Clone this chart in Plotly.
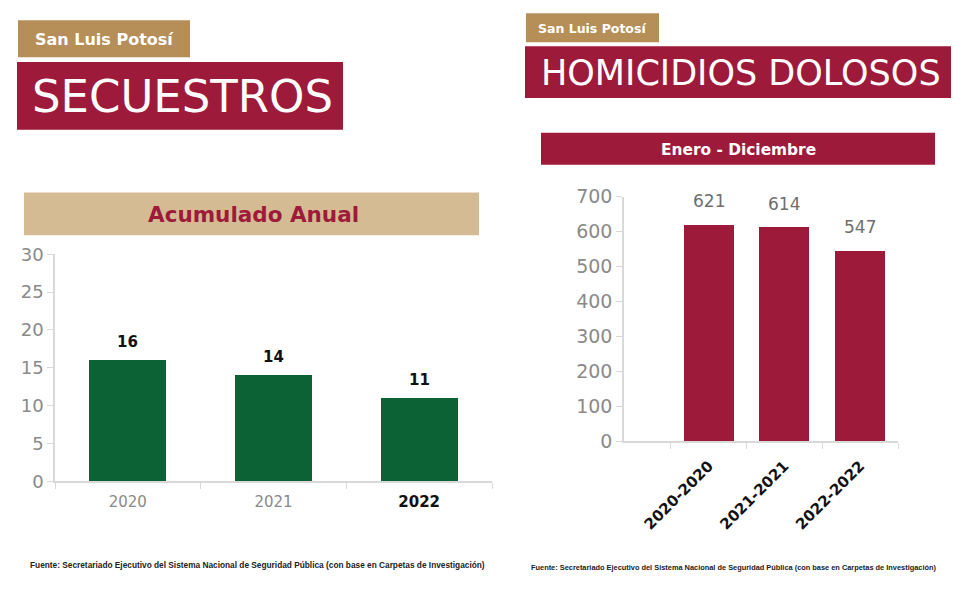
import plotly.graph_objects as go

# --- Data ---
sec_years = ["2020", "2021", "2022"]
sec_values = [16, 14, 11]

hom_periods = ["2020-2020", "2021-2021", "2022-2022"]
hom_values = [621, 614, 547]

estado = "San Luis Potosí"
fuente = ("Fuente: Secretariado Ejecutivo del Sistema Nacional de Seguridad Pública "
          "(con base en Carpetas de Investigación)")

# --- Colours ---
GUINDA = "#9E1A3A"
DORADO = "#B68F58"
ARENA = "#D5BB93"
VERDE = "#0C6234"
GRIS = "#8A8A8A"
EJE = "#D9D9D9"

W, H = 960, 593
# the page shows the paper a bit offset, so map screen pixels -> paper
OX, OY, PW, PH = 8.0, 18.7, 960.0, 573.5


def px(x):
    return (x - OX) / PW


def py(y):
    return 1 - (y - OY) / PH


fig = go.Figure()

# --- Left: Secuestros ---
fig.add_trace(go.Bar(
    x=sec_years, y=sec_values,
    marker=dict(color=VERDE, line=dict(width=0)),
    width=0.53,
    xaxis="x", yaxis="y",
    showlegend=False,
))

# --- Right: Homicidios dolosos ---
fig.add_trace(go.Bar(
    x=hom_periods, y=hom_values,
    marker=dict(color=GUINDA, line=dict(width=0)),
    width=0.66,
    xaxis="x2", yaxis="y2",
    showlegend=False,
))

# tick labels: last year in bold black
sec_ticktext = [f"<b><span style='color:#111'>{y}</span></b>" if i == len(sec_years) - 1 else y
                for i, y in enumerate(sec_years)]

annotations = []
# category index, since "2020" would be read as a position number
for i, v in enumerate(sec_values):
    annotations.append(dict(
        x=i, y=v, xref="x", yref="y", text=f"<b>{v}</b>", showarrow=False,
        yanchor="bottom", yshift=7,
        font=dict(family="DejaVu Sans", size=15, color="#111111"),
    ))
for i, v in enumerate(hom_values):
    annotations.append(dict(
        x=i, y=v, xref="x2", yref="y2", text=str(v), showarrow=False,
        yanchor="bottom", yshift=11,
        font=dict(family="DejaVu Sans", size=17, color="#6E6E6E"),
    ))


def box(x0, y0, x1, y1, color):
    return dict(type="rect", xref="paper", yref="paper",
                x0=px(x0), x1=px(x1), y0=py(y1), y1=py(y0),
                fillcolor=color, line=dict(width=0), layer="below")


def label(text, xc, yc, size, color, bold=True, family="DejaVu Sans"):
    t = f"<b>{text}</b>" if bold else text
    return dict(text=t, x=px(xc), y=py(yc), xref="paper", yref="paper",
                xanchor="center", yanchor="middle", showarrow=False,
                font=dict(family=family, size=size, color=color))


shapes = [
    box(18, 20, 190, 57, DORADO),
    box(17, 62, 343, 130, GUINDA),
    box(24, 193, 479, 236, ARENA),
    box(526, 13, 659, 42, DORADO),
    box(525, 46, 951, 98, GUINDA),
    box(541, 133, 935, 165, GUINDA),
]

annotations += [
    label(estado, 104, 39, 16, "white"),
    label("SECUESTROS", 182, 97, 45, "white", bold=False),
    label("Acumulado Anual", 254, 215, 21.5, GUINDA),
    label(estado, 592, 28, 12.5, "white"),
    label("HOMICIDIOS DOLOSOS", 741, 73, 35, "white", bold=False),
    label("Enero - Diciembre", 738, 150, 15.4, "white"),
    label(fuente, 257, 567, 8.3, "#222222", family="Liberation Sans"),
    label(fuente, 734, 570, 7.4, "#222222", family="Liberation Sans"),
]

fig.update_layout(
    width=W, height=H,
    margin=dict(l=0, r=0, t=0, b=0),
    paper_bgcolor="white",
    plot_bgcolor="white",
    bargap=0,
    shapes=shapes,
    annotations=annotations,
    xaxis=dict(
        domain=[px(55), px(492)],
        range=[-0.5, 2.5],
        type="category",
        showline=True, linecolor=EJE, linewidth=1.5,
        ticks="outside", tickson="boundaries", ticklen=6, tickcolor=EJE,
        ticklabelstandoff=6,
        tickvals=sec_years, ticktext=sec_ticktext,
        tickfont=dict(family="DejaVu Sans", size=15, color=GRIS),
        showgrid=False, zeroline=False, fixedrange=True,
    ),
    yaxis=dict(
        domain=[py(483), py(255)],
        range=[0, 30], dtick=5,
        showline=True, linecolor=EJE, linewidth=1.5,
        ticks="outside", ticklen=6, tickcolor=EJE,
        tickfont=dict(family="DejaVu Sans", size=18, color=GRIS),
        showgrid=False, zeroline=False, fixedrange=True,
    ),
    xaxis2=dict(
        domain=[px(624), px(898)],
        range=[-1.12, 2.5],
        type="category",
        anchor="y2",
        showline=True, linecolor=EJE, linewidth=1.5,
        ticks="outside", tickson="boundaries", ticklen=6, tickcolor=EJE,
        ticklabelstandoff=8,
        tickangle=-45,
        tickfont=dict(family="DejaVu Sans", size=15, color="#111111", weight="bold"),
        showgrid=False, zeroline=False, fixedrange=True,
    ),
    yaxis2=dict(
        domain=[py(443), py(197)],
        range=[0, 700], dtick=100,
        anchor="x2",
        showline=True, linecolor=EJE, linewidth=1.5,
        ticks="outside", ticklen=6, tickcolor=EJE,
        tickfont=dict(family="DejaVu Sans", size=19, color=GRIS),
        showgrid=False, zeroline=False, fixedrange=True,
    ),
)

fig.write_html("out.html")
